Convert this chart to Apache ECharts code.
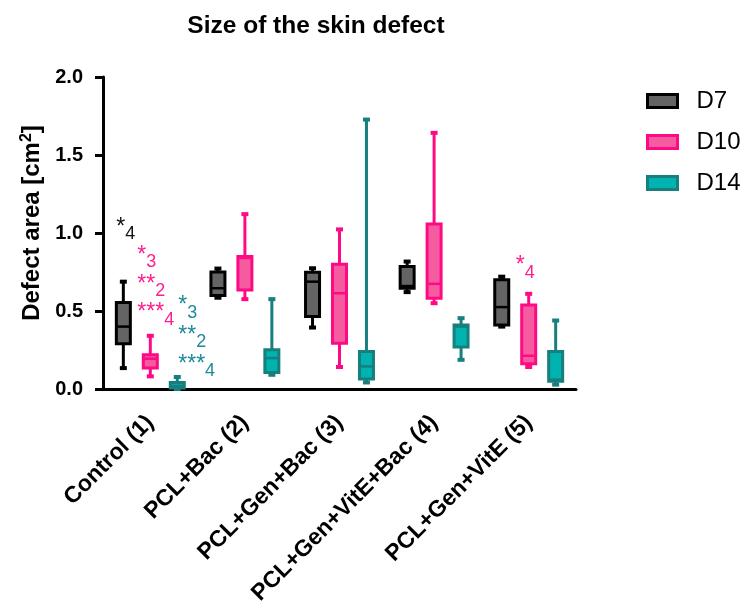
<!DOCTYPE html>
<html>
<head>
<meta charset="utf-8">
<script src="https://cdn.jsdelivr.net/npm/echarts@6/dist/echarts.min.js"></script>
<style>
html,body{margin:0;padding:0;background:#fff;}
#chart{width:745px;height:610px;}
</style>
</head>
<body>
<div id="chart"></div>
<script>
// ---- data ----
var categories = ['Control (1)', 'PCL+Bac (2)', 'PCL+Gen+Bac (3)', 'PCL+Gen+VitE+Bac (4)', 'PCL+Gen+VitE (5)'];
var seriesNames = ['D7', 'D10', 'D14'];
var yTicks = [0, 0.5, 1.0, 1.5, 2.0];
// [min, q1, median, q3, max] per category
var d7Stats = [
  [0.134, 0.290, 0.400, 0.554, 0.688],
  [0.585, 0.600, 0.646, 0.750, 0.772],
  [0.394, 0.465, 0.688, 0.748, 0.774],
  [0.621, 0.646, 0.660, 0.785, 0.817],
  [0.400, 0.411, 0.525, 0.700, 0.720]
];
var d10Stats = [
  [0.081, 0.134, 0.194, 0.219, 0.341],
  [0.576, 0.635, 0.840, 0.849, 1.121],
  [0.141, 0.294, 0.614, 0.800, 1.023],
  [0.550, 0.582, 0.674, 1.058, 1.642],
  [0.141, 0.162, 0.213, 0.539, 0.610]
];
var d14Stats = [
  [0.000, 0.006, 0.020, 0.042, 0.077],
  [0.091, 0.106, 0.198, 0.251, 0.576],
  [0.042, 0.064, 0.145, 0.241, 1.727],
  [0.187, 0.269, 0.400, 0.411, 0.454],
  [0.028, 0.049, 0.060, 0.241, 0.439]
];
// significance annotations: category index, series index, value (text centre), stars, group number
var annotCategory = [0, 0, 0, 0, 0, 0, 0, 4];
var annotSeries   = [0, 1, 1, 1, 2, 2, 2, 1];
var annotValue    = [1.016, 0.837, 0.651, 0.469, 0.514, 0.325, 0.139, 0.770];
var annotStars    = ['*', '*', '**', '***', '*', '**', '***', '*'];
var annotNumber   = ['4', '3', '2', '4', '3', '2', '4', '4'];

// ---- styles ----
var FONT = '"Liberation Sans", Arial, Helvetica, sans-serif';
var borderColors = ['#000000', '#FF0A85', '#177F7E'];
var fillColors = ['#646464', '#F55CA0', '#00B2B0'];
var annotColors = ['#111111', '#FF1F8E', '#1E8A9A'];
var offsetFrac = [-0.285, 0, 0.285];
var annotDx = [-7, -13, 1];

var chart = echarts.init(document.getElementById('chart'), null, {renderer: 'canvas'});

function boxSeries(k, stats) {
  return {
    name: seriesNames[k],
    type: 'custom',
    itemStyle: {color: fillColors[k], borderColor: borderColors[k], borderWidth: 3},
    data: stats.map(function (s, i) { return [i, s[0], s[1], s[2], s[3], s[4]]; }),
    encode: {x: 0, y: [1, 2, 3, 4, 5]},
    renderItem: function (params, api) {
      var idx = api.value(0);
      var bw = api.size([1, 0])[0];
      var off = bw * offsetFrac[k];
      var pMin = api.coord([idx, api.value(1)]);
      var pQ1 = api.coord([idx, api.value(2)]);
      var pMed = api.coord([idx, api.value(3)]);
      var pQ3 = api.coord([idx, api.value(4)]);
      var pMax = api.coord([idx, api.value(5)]);
      var cx = pMin[0] + off;
      var w = 14, cap = 7;
      var bc = borderColors[k], fc = fillColors[k];
      return {
        type: 'group',
        children: [
          {type: 'line', shape: {x1: cx, y1: pMax[1], x2: cx, y2: pQ3[1]}, style: {stroke: bc, lineWidth: 3}},
          {type: 'line', shape: {x1: cx, y1: pQ1[1], x2: cx, y2: pMin[1]}, style: {stroke: bc, lineWidth: 3}},
          {type: 'line', shape: {x1: cx - cap / 2, y1: pMax[1], x2: cx + cap / 2, y2: pMax[1]}, style: {stroke: bc, lineWidth: 4}},
          {type: 'line', shape: {x1: cx - cap / 2, y1: pMin[1], x2: cx + cap / 2, y2: pMin[1]}, style: {stroke: bc, lineWidth: 4}},
          {type: 'rect', shape: {x: cx - w / 2, y: pQ3[1], width: w, height: pQ1[1] - pQ3[1]}, style: {fill: fc, stroke: bc, lineWidth: 3}},
          {type: 'line', shape: {x1: cx - w / 2, y1: pMed[1], x2: cx + w / 2, y2: pMed[1]}, style: {stroke: bc, lineWidth: 2.5}}
        ]
      };
    },
    z: 2
  };
}

var annotSeriesDef = {
  type: 'custom',
  silent: true,
  data: annotCategory.map(function (c, i) { return [c, annotValue[i]]; }),
  encode: {x: 0, y: 1},
  renderItem: function (params, api) {
    var i = params.dataIndex;
    var p = api.coord([api.value(0), api.value(1)]);
    var bw = api.size([1, 0])[0];
    var k = annotSeries[i];
    var x = p[0] + bw * offsetFrac[k] + annotDx[k];
    var col = annotColors[k];
    return {
      type: 'text',
      x: x, y: p[1],
      style: {
        text: '{s|' + annotStars[i] + '}{n|' + annotNumber[i] + '}',
        verticalAlign: 'middle',
        align: 'left',
        rich: {
          s: {fontSize: 23, fontFamily: FONT, fill: col, color: col, verticalAlign: 'top', padding: [0, 0, 6, 0]},
          n: {fontSize: 18, fontFamily: FONT, fill: col, color: col, padding: [8, 0, 0, 0]}
        }
      }
    };
  },
  z: 3
};

var option = {
  backgroundColor: '#ffffff',
  animation: false,
  title: {
    text: 'Size of the skin defect',
    left: 311, top: 9, textAlign: 'center',
    textStyle: {fontFamily: FONT, fontSize: 24.5, fontWeight: 'bold', color: '#000'}
  },
  legend: {
    orient: 'vertical', left: 641, top: 84,
    itemWidth: 30, itemHeight: 13, itemGap: 17,
    icon: 'rect',
    textStyle: {fontFamily: FONT, fontSize: 24, color: '#000', padding: [0, 0, 0, 14]},
    data: seriesNames.map(function (n, k) {
      return {name: n, itemStyle: {color: fillColors[k], borderColor: borderColors[k], borderWidth: 3}};
    })
  },
  grid: {left: 103, right: 169, top: 77, bottom: 221, containLabel: false},
  xAxis: {
    type: 'category',
    data: categories,
    axisLine: {lineStyle: {color: '#000', width: 3}},
    axisTick: {alignWithLabel: true, length: 10, lineStyle: {color: '#000', width: 3}},
    axisLabel: {rotate: 45, interval: 0, margin: 30, fontFamily: FONT, fontSize: 23, fontWeight: 'bold', color: '#000'},
    splitLine: {show: false}
  },
  yAxis: {
    type: 'value',
    min: yTicks[0], max: yTicks[yTicks.length - 1], interval: 0.5,
    name: '{a|Defect area [cm}{sup|2}{a|]}',
    nameLocation: 'middle', nameRotate: 90, nameGap: 58,
    nameTextStyle: {
      padding: [0, 0, 0, 20],
      rich: {
        a: {fontFamily: FONT, fontSize: 24, fontWeight: 'bold', color: '#000'},
        sup: {fontFamily: FONT, fontSize: 16, fontWeight: 'bold', color: '#000', verticalAlign: 'top', padding: [0, 0, 10, 0]}
      }
    },
    axisLine: {show: true, lineStyle: {color: '#000', width: 3}},
    axisTick: {show: true, length: 8, lineStyle: {color: '#000', width: 3}},
    axisLabel: {margin: 20, fontFamily: FONT, fontSize: 20, fontWeight: 'bold', color: '#000',
      formatter: function (v) { return v.toFixed(1); }},
    splitLine: {show: false}
  },
  series: [boxSeries(0, d7Stats), boxSeries(1, d10Stats), boxSeries(2, d14Stats), annotSeriesDef]
};
chart.setOption(option);
</script>
</body>
</html>
